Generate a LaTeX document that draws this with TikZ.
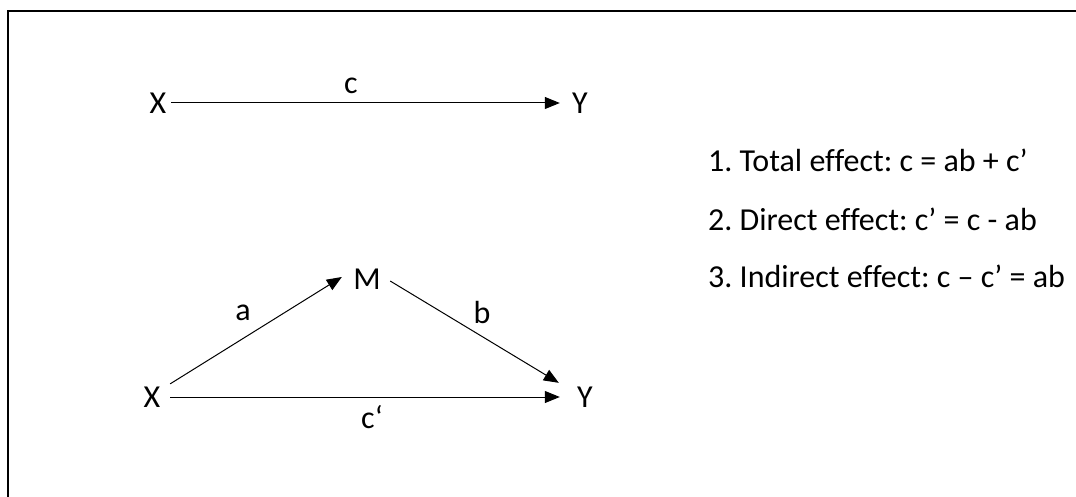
\documentclass[tikz,border=0pt]{standalone}
\usepackage{fontspec}
\setmainfont{Carlito}[Ligatures=NoCommon]
\usepackage{tikz}
\usetikzlibrary{arrows.meta, positioning}
\frenchspacing

\begin{document}
\begin{tikzpicture}[x=1pt, y=1pt, >={Triangle[length=15pt, width=12pt]},
		var/.style={inner sep=2pt, font=\fontsize{32}{38}\selectfont},
		lbl/.style={inner sep=0pt, font=\fontsize{32}{38}\selectfont},
		arr/.style={->, line width=1pt}]
				\clip (0,0) rectangle (1076,-497);
				\draw [line width=2pt] (7.5,-530) |- (1100,-11.5);
				
				% total effect
				\node [var] (x1) at (158,-103) {X};
				\node [var] (y1) at (580,-103) {Y};
				\node [lbl] (c) at (351,-86) {c};
				\draw [arr, shorten <=2.7pt, shorten >=10.2pt] (x1) -- (y1);
				
				% mediation
				\node [var] (x2) at (152,-397) {X};
				\node [var] (m) at (367,-279) {M};
				\node [var] (y2) at (585,-397) {Y};
				\node [lbl] (a) at (243,-313) {a};
				\node [lbl] (b) at (482,-312) {b};
				\node [lbl] (cp) at (372,-417) {c‘};
				\draw [arr] ([xshift=7.7pt, yshift=0.7pt]x2.north east) -- ([xshift=-9.3pt, yshift=2pt]m.west);
				\draw [arr] ([xshift=7.3pt, yshift=-2pt]m.east) -- ([xshift=-16.2pt, yshift=1.7pt]y2.north west);
				\draw [arr, shorten <=7.7pt, shorten >=15.2pt] (x2) -- (y2);
				
				% effects
				\node [lbl, anchor=base west] (e1) at (708,-172) {1. Total effect: c = ab + c’};
				\node [lbl, anchor=base west] (e2) at (708,-230) {2. Direct effect: c’ = c - ab};
				\node [lbl, anchor=base west] (e3) at (708,-287) {3. Indirect effect: c – c’ = ab};
			\end{tikzpicture}
\end{document}
